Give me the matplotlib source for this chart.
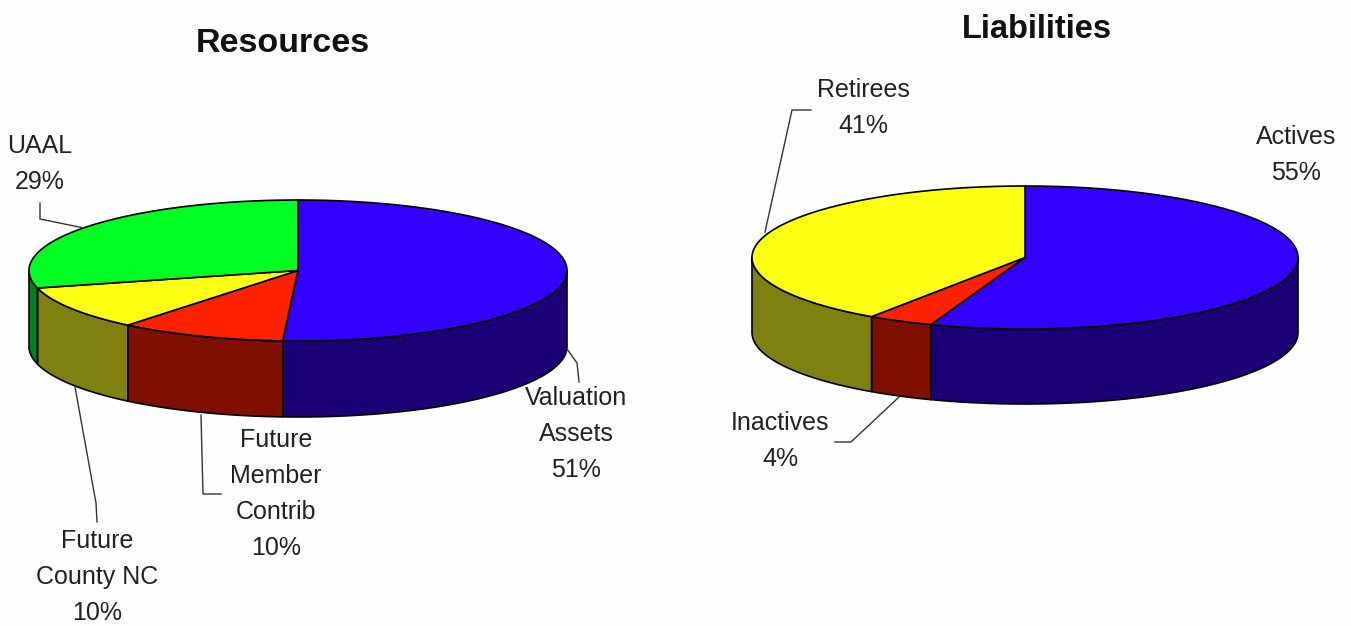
import numpy as np
import matplotlib
matplotlib.use('Agg')
import matplotlib.pyplot as plt
from matplotlib.patches import Polygon

plt.rcParams['font.family'] = ['Liberation Sans', 'DejaVu Sans']

W, H = 1351, 625

# shares, clockwise from 12 o'clock
res_names = ['Valuation\nAssets', 'Future\nMember\nContrib', 'Future\nCounty NC', 'UAAL']
res_values = [50.9, 10, 10.1, 29]
res_labels = ['51%', '10%', '10%', '29%']
res_top = ['#3300ff', '#ff2200', '#ffff14', '#00ff22']
res_side = ['#1c0075', '#7f1000', '#808010', '#008020']

lia_names = ['Actives', 'Inactives', 'Retirees']
lia_values = [55.6, 3.9, 40.5]
lia_labels = ['55%', '4%', '41%']
lia_top = ['#3300ff', '#ff2200', '#ffff14']
lia_side = ['#1c0075', '#7f1000', '#808010']


def ell(cx, cy, rx, ry, th):
    return cx + rx * np.sin(th), cy - ry * np.cos(th)


def pie3d(ax, values, top, side, cx, cy, rx, ry, depth):
    edges = np.radians(np.cumsum([0] + list(values)) * 360.0 / sum(values))
    # walls first, only the part facing front (90 to 270 deg)
    for i in range(len(values)):
        a = max(edges[i], np.pi / 2)
        b = min(edges[i + 1], 3 * np.pi / 2)
        if b > a:
            th = np.linspace(a, b, 80)
            x, y = ell(cx, cy, rx, ry, th)
            pts = np.r_[np.c_[x, y], np.c_[x[::-1], y[::-1] + depth]]
            ax.add_patch(Polygon(pts, fc=side[i], ec='black', lw=1.2, joinstyle='round'))
    for i in range(len(values)):
        th = np.linspace(edges[i], edges[i + 1], 120)
        x, y = ell(cx, cy, rx, ry, th)
        pts = np.r_[[[cx, cy]], np.c_[x, y]]
        ax.add_patch(Polygon(pts, fc=top[i], ec='black', lw=1.2, joinstyle='round'))


def leader(ax, xs, ys):
    ax.plot(xs, ys, color='#333333', lw=1.0, solid_joinstyle='miter')


fig = plt.figure(figsize=(W / 100, H / 100), dpi=100, facecolor='#fefefe')
ax = fig.add_axes([0, 0, 1, 1])
ax.set_xlim(0, W)
ax.set_ylim(H, 0)
ax.axis('off')

pie3d(ax, res_values, res_top, res_side, 298, 270.5, 269, 70.5, 76)
pie3d(ax, lia_values, lia_top, lia_side, 1025, 257.5, 273, 71.5, 75)

leader(ax, [40, 40, 84], [203, 219, 228])
leader(ax, [75, 96, 97], [387, 503, 522])
leader(ax, [201, 203, 221], [415, 494, 494])
leader(ax, [567, 577, 579], [349, 363, 382])
leader(ax, [811, 792, 765], [110, 110, 232])
leader(ax, [835, 851, 899], [442, 442, 397])

ax.text(283, 43, 'Resources', fontsize=24.5, fontweight='bold', ha='center', va='center', color='#111111')
ax.text(1037, 29, 'Liabilities', fontsize=23.5, fontweight='bold', ha='center', va='center', color='#111111')


def label(x, y, name, pct):
    ax.text(x, y, name + '\n' + pct, fontsize=18, ha='center', va='center',
            color='#222222', linespacing=1.62)


label(576, 434, res_names[0], res_labels[0])
label(276, 494, res_names[1], res_labels[1])
label(97, 577, res_names[2], res_labels[2])
label(40, 164, res_names[3], res_labels[3])
label(1296, 155, lia_names[0], lia_labels[0])
label(780, 441, lia_names[1], lia_labels[1])
label(863, 108, lia_names[2], lia_labels[2])

fig.savefig('out.png', dpi=100, facecolor=fig.get_facecolor())
